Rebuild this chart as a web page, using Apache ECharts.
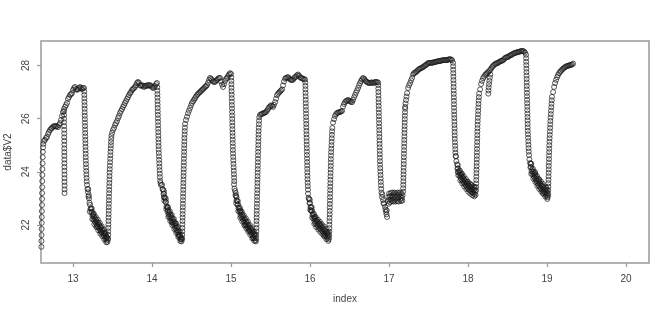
<!DOCTYPE html>
<html><head><meta charset="utf-8">
<script src="https://cdn.jsdelivr.net/npm/echarts@6/dist/echarts.min.js"></script>
<style>html,body{margin:0;padding:0;background:#fff}#c{width:670px;height:315px}</style>
</head><body><div id="c"></div>
<script>
var xTicks = [13, 14, 15, 16, 17, 18, 19, 20];
var yTicks = [22, 24, 26, 28];

var seg0 = [[12.600,21.18],[12.601,21.40],[12.602,21.62],[12.603,21.85],[12.604,22.08],[12.605,22.30],[12.606,22.52],[12.607,22.75],[12.608,22.98],[12.609,23.20],[12.610,23.42],[12.611,23.65],[12.612,23.88],[12.613,24.10],[12.615,24.32],[12.617,24.55],[12.619,24.75],[12.621,24.92],
[12.624,25.05],[12.633,25.16],[12.646,25.20],[12.658,25.27],[12.671,25.31],[12.684,25.42],[12.696,25.50],[12.709,25.57],[12.722,25.62],[12.734,25.65],[12.747,25.69],[12.759,25.72],[12.772,25.72],[12.785,25.70],[12.797,25.72],[12.810,25.68],[12.823,25.76],[12.835,25.83],[12.848,25.95],[12.861,26.10],[12.873,26.25],[12.886,26.36],[12.899,26.44],[12.911,26.51],[12.924,26.59],[12.937,26.74],[12.949,26.81],[12.962,26.89],[12.975,26.92],[12.987,26.96],[13.000,27.08],[13.013,27.15],[13.025,27.19],[13.038,27.11],[13.051,27.08],[13.063,27.11],[13.076,27.15],[13.089,27.19],[13.101,27.15],[13.114,27.11],[13.127,27.15],[13.139,27.15]];
var dip0 = [[12.887,26.28],[12.887,26.14],[12.888,26.00],[12.888,25.86],[12.888,25.72],[12.889,25.58],[12.889,25.44],[12.889,25.30],[12.890,25.16],[12.890,25.02],[12.890,24.88],[12.890,24.74],[12.891,24.60],[12.891,24.46],[12.891,24.32],[12.891,24.18],[12.892,24.04],[12.892,23.90],[12.892,23.76],[12.892,23.62],[12.893,23.48],[12.893,23.34],[12.893,23.20]];

var drop1 = [[13.142,27.02],[13.143,26.89],[13.144,26.76],[13.145,26.63],[13.146,26.50],[13.147,26.37],[13.148,26.24],[13.149,26.11],[13.150,25.98],[13.151,25.85],[13.152,25.72],[13.153,25.59],[13.154,25.46],[13.155,25.33],[13.156,25.20],[13.157,25.07],[13.158,24.94],[13.159,24.81],[13.160,24.68],[13.161,24.55],[13.162,24.42],[13.164,24.29],[13.166,24.16],[13.168,24.03],[13.170,23.90],[13.172,23.77],[13.174,23.64]];
var band1 = [[13.177,23.51],[13.183,23.35],[13.190,23.23],[13.196,23.07],[13.203,23.00],[13.209,22.84],[13.215,22.76],[13.221,22.60],[13.228,22.63],[13.234,22.47],[13.241,22.50],[13.247,22.34],[13.253,22.38],[13.259,22.22],[13.266,22.31],[13.272,22.15],[13.278,22.25],[13.284,22.09],[13.291,22.19],[13.297,22.03],[13.304,22.13],[13.310,21.97],[13.316,22.08],[13.322,21.92],[13.329,22.02],[13.335,21.86],[13.342,21.96],[13.348,21.80],[13.354,21.90],[13.360,21.74],[13.367,21.84],[13.373,21.68],[13.380,21.78],[13.386,21.62],[13.392,21.72],[13.398,21.56],[13.405,21.65],[13.411,21.49],[13.418,21.58],[13.424,21.42],[13.430,21.52],[13.436,21.36],[13.441,21.45],
[13.200,23.12],[13.260,22.40],[13.300,21.95],[13.350,21.75],[13.400,21.70],[13.425,21.55],
[13.193,23.35],[13.212,22.50],[13.238,22.62],[13.244,22.22],[13.263,22.43],[13.270,22.03],[13.288,22.30],[13.295,21.92],[13.313,22.20],[13.320,21.80],[13.339,22.08],[13.345,21.68],[13.364,21.95],[13.370,21.58],[13.389,21.84],[13.396,21.46],[13.415,21.70],[13.421,21.35]];
var rise1 = [[13.444,21.50],[13.445,21.63],[13.446,21.76],[13.447,21.89],[13.448,22.02],[13.449,22.15],[13.450,22.28],[13.451,22.41],[13.452,22.54],[13.453,22.67],[13.454,22.80],[13.455,22.93],[13.456,23.06],[13.457,23.19],[13.458,23.32],[13.459,23.45],[13.460,23.58],[13.461,23.71],[13.462,23.84],[13.463,23.97],[13.465,24.10],[13.467,24.23],[13.469,24.36],[13.471,24.49],[13.473,24.62],[13.475,24.75],[13.477,24.88],[13.479,25.00],[13.481,25.12],[13.484,25.24],[13.487,25.35]];
var top1 = [[13.494,25.46],[13.506,25.57],[13.519,25.65],[13.532,25.76],[13.544,25.83],[13.557,25.91],[13.570,26.02],[13.582,26.10],[13.595,26.21],[13.608,26.29],[13.620,26.36],[13.633,26.44],[13.646,26.51],[13.658,26.59],[13.671,26.66],[13.684,26.74],[13.696,26.81],[13.709,26.89],[13.722,26.96],[13.734,27.00],[13.747,27.08],[13.759,27.11],[13.772,27.15],[13.785,27.19],[13.797,27.26],[13.810,27.34],[13.823,27.38],[13.835,27.34],[13.848,27.26],[13.861,27.23],[13.873,27.26],[13.886,27.23],[13.899,27.19],[13.911,27.23],[13.924,27.23],[13.937,27.26],[13.949,27.23],[13.962,27.26],[13.975,27.26],[13.987,27.23],[14.000,27.19],[14.013,27.15],[14.025,27.19],[14.038,27.23],[14.051,27.30],[14.063,27.34]];

var drop2 = [[14.066,27.18],[14.067,27.05],[14.068,26.92],[14.069,26.79],[14.070,26.66],[14.071,26.53],[14.072,26.40],[14.073,26.27],[14.074,26.14],[14.075,26.01],[14.076,25.88],[14.077,25.75],[14.078,25.62],[14.079,25.49],[14.080,25.36],[14.081,25.23],[14.082,25.10],[14.083,24.97],[14.084,24.84],[14.086,24.71],[14.088,24.58],[14.090,24.45],[14.092,24.32],[14.094,24.19],[14.096,24.06],[14.098,23.93],[14.100,23.80],[14.103,23.67],[14.107,23.58],[14.114,23.50]];
var band2 = [[14.127,23.51],[14.133,23.35],[14.139,23.33],[14.145,23.17],[14.152,23.18],[14.158,23.02],[14.165,23.03],[14.171,22.87],[14.177,22.86],[14.183,22.70],[14.190,22.66],[14.196,22.50],[14.203,22.56],[14.209,22.40],[14.215,22.48],[14.221,22.32],[14.228,22.41],[14.234,22.25],[14.241,22.34],[14.247,22.18],[14.253,22.27],[14.259,22.11],[14.266,22.20],[14.272,22.04],[14.279,22.12],[14.285,21.96],[14.291,22.04],[14.297,21.88],[14.304,21.96],[14.310,21.80],[14.316,21.89],[14.322,21.73],[14.329,21.80],[14.335,21.64],[14.342,21.72],[14.348,21.56],[14.354,21.63],[14.360,21.47],[14.367,21.54],[14.373,21.38],[14.378,21.45],
[14.150,23.05],[14.200,22.65],[14.250,22.10],[14.300,22.05],[14.340,21.60],[14.370,21.48],
[14.150,23.28],[14.156,22.92],[14.175,22.98],[14.181,22.60],[14.200,22.68],[14.206,22.30],[14.225,22.52],[14.231,22.15],[14.250,22.38],[14.256,22.00],[14.276,22.23],[14.282,21.85],[14.301,22.07],[14.307,21.70],[14.326,21.92],[14.332,21.55],[14.351,21.75],[14.357,21.40]];
var rise2 = [[14.381,21.50],[14.382,21.63],[14.383,21.76],[14.384,21.89],[14.385,22.02],[14.386,22.15],[14.387,22.28],[14.388,22.41],[14.389,22.54],[14.390,22.67],[14.391,22.80],[14.392,22.93],[14.393,23.06],[14.394,23.19],[14.395,23.32],[14.396,23.45],[14.397,23.58],[14.398,23.71],[14.399,23.84],[14.400,23.97],[14.401,24.10],[14.402,24.23],[14.403,24.36],[14.404,24.49],[14.405,24.62],[14.406,24.75],[14.407,24.88],[14.408,25.01],[14.409,25.14],[14.410,25.27],[14.412,25.40],[14.414,25.53],[14.416,25.66]];
var top2 = [[14.418,25.80],[14.430,25.95],[14.443,26.07],[14.456,26.20],[14.468,26.30],[14.481,26.40],[14.494,26.50],[14.506,26.59],[14.519,26.65],[14.532,26.71],[14.544,26.77],[14.557,26.83],[14.570,26.89],[14.582,26.93],[14.595,26.97],[14.608,27.00],[14.620,27.04],[14.633,27.08],[14.646,27.11],[14.658,27.15],[14.671,27.19],[14.684,27.22],[14.696,27.26],[14.709,27.35],[14.722,27.45],[14.734,27.53],[14.747,27.50],[14.759,27.45],[14.772,27.40],[14.785,27.38],[14.797,27.38],[14.810,27.42],[14.823,27.46],[14.835,27.50],[14.848,27.53],[14.861,27.53],[14.873,27.40],[14.886,27.28],[14.899,27.19],[14.911,27.30],[14.924,27.42],[14.937,27.50],[14.949,27.53],[14.962,27.60],[14.975,27.66],[14.987,27.71],[15.000,27.68]];

var drop3 = [[15.003,27.55],[15.004,27.42],[15.005,27.29],[15.006,27.16],[15.007,27.03],[15.008,26.90],[15.009,26.77],[15.010,26.64],[15.011,26.51],[15.012,26.38],[15.013,26.25],[15.014,26.12],[15.015,25.99],[15.016,25.86],[15.017,25.73],[15.018,25.60],[15.019,25.47],[15.020,25.34],[15.021,25.21],[15.022,25.08],[15.023,24.95],[15.024,24.82],[15.025,24.69],[15.027,24.56],[15.029,24.43],[15.031,24.30],[15.033,24.17],[15.035,24.04],[15.037,23.91],[15.039,23.78],[15.041,23.65]];
var band3 = [[15.038,23.53],[15.044,23.37],[15.051,23.28],[15.057,23.12],[15.063,23.08],[15.069,22.92],[15.076,22.91],[15.082,22.75],[15.089,22.78],[15.095,22.62],[15.101,22.65],[15.107,22.49],[15.114,22.53],[15.120,22.37],[15.127,22.46],[15.133,22.30],[15.139,22.39],[15.145,22.23],[15.152,22.32],[15.158,22.16],[15.165,22.25],[15.171,22.09],[15.177,22.19],[15.183,22.03],[15.190,22.13],[15.196,21.97],[15.203,22.07],[15.209,21.91],[15.215,22.01],[15.221,21.85],[15.228,21.95],[15.234,21.79],[15.241,21.89],[15.247,21.73],[15.253,21.83],[15.259,21.67],[15.266,21.77],[15.272,21.61],[15.279,21.71],[15.285,21.55],[15.291,21.65],[15.297,21.49],[15.304,21.59],[15.310,21.43],[15.315,21.38],
[15.070,23.05],[15.120,22.55],[15.180,21.98],[15.230,21.80],[15.280,21.50],[15.300,21.66],
[15.060,23.20],[15.066,22.82],[15.086,22.90],[15.092,22.52],[15.111,22.65],[15.117,22.27],[15.136,22.50],[15.142,22.13],[15.162,22.37],[15.168,21.99],[15.187,22.25],[15.193,21.87],[15.212,22.13],[15.218,21.75],[15.238,22.00],[15.244,21.63],[15.263,21.88],[15.269,21.50],[15.288,21.76],[15.294,21.40]];
var rise3 = [[15.318,21.50],[15.319,21.63],[15.320,21.76],[15.321,21.89],[15.322,22.02],[15.323,22.15],[15.324,22.28],[15.325,22.41],[15.326,22.54],[15.327,22.67],[15.328,22.80],[15.329,22.93],[15.330,23.06],[15.331,23.19],[15.332,23.32],[15.333,23.45],[15.334,23.58],[15.335,23.71],[15.336,23.84],[15.337,23.97],[15.338,24.10],[15.339,24.23],[15.340,24.36],[15.341,24.49],[15.342,24.62],[15.343,24.75],[15.344,24.88],[15.345,25.01],[15.346,25.14],[15.347,25.27],[15.348,25.40],[15.349,25.53],[15.351,25.66],[15.353,25.79],[15.355,25.92],[15.357,26.05]];
var top3 = [[15.367,26.14],[15.380,26.16],[15.392,26.18],[15.405,26.20],[15.418,26.21],[15.430,26.23],[15.443,26.25],[15.456,26.30],[15.468,26.36],[15.481,26.42],[15.494,26.46],[15.506,26.50],[15.519,26.48],[15.532,26.44],[15.544,26.52],[15.557,26.62],[15.570,26.75],[15.582,26.88],[15.595,26.94],[15.608,26.98],[15.620,27.02],[15.633,27.06],[15.646,27.10],[15.658,27.25],[15.671,27.40],[15.684,27.50],[15.696,27.53],[15.709,27.55],[15.722,27.56],[15.734,27.52],[15.747,27.48],[15.759,27.46],[15.772,27.45],[15.785,27.47],[15.797,27.52],[15.810,27.56],[15.823,27.58],[15.835,27.63],[15.848,27.66],[15.861,27.62],[15.873,27.56],[15.886,27.53],[15.899,27.52],[15.911,27.50],[15.924,27.48],[15.937,27.47]];

var drop4 = [[15.940,27.36],[15.941,27.23],[15.942,27.10],[15.943,26.97],[15.944,26.84],[15.945,26.71],[15.946,26.58],[15.947,26.45],[15.948,26.32],[15.949,26.19],[15.950,26.06],[15.951,25.93],[15.952,25.80],[15.953,25.67],[15.954,25.54],[15.955,25.41],[15.956,25.28],[15.957,25.15],[15.958,25.02],[15.959,24.89],[15.960,24.76],[15.961,24.63],[15.962,24.50],[15.963,24.37],[15.964,24.24],[15.965,24.11],[15.966,23.98],[15.967,23.85],[15.968,23.72],[15.970,23.59],[15.972,23.46],[15.974,23.33]];
var band4 = [[15.975,23.18],[15.981,23.02],[15.987,22.98],[15.993,22.82],[16.000,22.83],[16.006,22.67],[16.013,22.68],[16.019,22.52],[16.025,22.53],[16.031,22.37],[16.038,22.40],[16.044,22.24],[16.051,22.30],[16.057,22.14],[16.063,22.23],[16.069,22.07],[16.076,22.18],[16.082,22.02],[16.089,22.14],[16.095,21.98],[16.101,22.09],[16.107,21.93],[16.114,22.04],[16.120,21.88],[16.127,22.00],[16.133,21.84],[16.139,21.96],[16.145,21.80],[16.152,21.92],[16.158,21.76],[16.165,21.88],[16.171,21.72],[16.177,21.83],[16.183,21.67],[16.190,21.78],[16.196,21.62],[16.203,21.73],[16.209,21.57],[16.215,21.68],[16.221,21.52],[16.228,21.62],[16.234,21.46],[16.240,21.52],
[16.010,22.55],[16.060,22.30],[16.120,22.05],[16.180,21.60],[16.220,21.70],
[15.997,22.95],[16.003,22.57],[16.022,22.65],[16.028,22.27],[16.048,22.42],[16.054,22.04],[16.073,22.30],[16.079,21.92],[16.098,22.20],[16.104,21.83],[16.124,22.12],[16.130,21.74],[16.149,22.03],[16.155,21.66],[16.174,21.95],[16.180,21.57],[16.200,21.85],[16.206,21.47],[16.225,21.74],[16.231,21.40]];
var rise4 = [[16.242,21.62],[16.243,21.75],[16.244,21.88],[16.245,22.01],[16.246,22.14],[16.247,22.27],[16.248,22.40],[16.249,22.53],[16.250,22.66],[16.251,22.79],[16.252,22.92],[16.253,23.05],[16.254,23.18],[16.255,23.31],[16.256,23.44],[16.257,23.57],[16.258,23.70],[16.259,23.83],[16.260,23.96],[16.261,24.09],[16.262,24.22],[16.263,24.35],[16.264,24.48],[16.265,24.61],[16.267,24.74],[16.269,24.87],[16.271,25.00],[16.273,25.13],[16.275,25.26],[16.277,25.39],[16.279,25.52],[16.282,25.65]];
var top4 = [[16.291,25.85],[16.304,25.98],[16.316,26.10],[16.329,26.17],[16.342,26.21],[16.354,26.23],[16.367,26.24],[16.380,26.25],[16.392,26.27],[16.405,26.29],[16.418,26.45],[16.430,26.55],[16.443,26.62],[16.456,26.66],[16.468,26.68],[16.481,26.70],[16.494,26.68],[16.506,26.65],[16.519,26.63],[16.532,26.62],[16.544,26.70],[16.557,26.80],[16.570,26.89],[16.582,26.98],[16.595,27.06],[16.608,27.15],[16.620,27.25],[16.633,27.34],[16.646,27.42],[16.658,27.48],[16.671,27.53],[16.684,27.50],[16.696,27.45],[16.709,27.40],[16.722,27.38],[16.734,27.35],[16.747,27.34],[16.759,27.34],[16.772,27.36],[16.785,27.36],[16.797,27.34],[16.810,27.35],[16.823,27.38],[16.835,27.38],[16.848,27.37],[16.861,27.36]];

var drop5 = [[16.863,27.26],[16.864,27.13],[16.865,27.00],[16.866,26.87],[16.867,26.74],[16.868,26.61],[16.869,26.48],[16.870,26.35],[16.871,26.22],[16.872,26.09],[16.873,25.96],[16.874,25.83],[16.875,25.70],[16.876,25.57],[16.877,25.44],[16.878,25.31],[16.879,25.18],[16.880,25.05],[16.881,24.92],[16.882,24.79],[16.883,24.66],[16.884,24.53],[16.885,24.40],[16.886,24.27],[16.888,24.14],[16.890,24.01],[16.892,23.88],[16.894,23.75],[16.896,23.62],[16.898,23.49],[16.900,23.36],
[16.905,23.22],[16.911,23.05],[16.915,23.15],[16.924,22.94],[16.930,22.82],[16.937,22.80],[16.949,22.68],[16.955,22.58],[16.962,22.49],[16.968,22.40],[16.975,22.30],[16.970,22.55]];
var flat5 = [[16.987,22.90],[16.990,23.05],[16.995,22.80],[17.000,23.18],[17.003,22.95],[17.010,23.08],[17.013,22.85],[17.020,23.20],[17.025,22.95],[17.030,23.10],[17.038,22.90],[17.040,23.22],[17.048,23.02],[17.055,22.88],[17.058,23.15],[17.065,23.22],[17.070,22.95],[17.075,23.08],[17.082,22.88],[17.088,23.20],[17.092,23.00],[17.100,23.12],[17.105,22.90],[17.110,23.22],[17.118,23.02],[17.122,22.88],[17.128,23.15],[17.135,23.22],[17.140,22.95],[17.145,23.08],[17.152,22.90],[17.158,23.18],[17.162,23.02],[17.168,22.92],[17.172,23.12]];
var rise5 = [[17.178,23.25],[17.179,23.38],[17.180,23.51],[17.181,23.64],[17.182,23.77],[17.183,23.90],[17.184,24.03],[17.185,24.16],[17.186,24.29],[17.187,24.42],[17.188,24.55],[17.189,24.68],[17.190,24.81],[17.191,24.94],[17.192,25.07],[17.193,25.20],[17.194,25.33],[17.195,25.46],[17.196,25.59],[17.197,25.72],[17.198,25.85],[17.199,25.98],[17.200,26.11],[17.202,26.24],[17.204,26.37]];
var top5 = [[17.203,26.44],[17.209,26.57],[17.215,26.70],[17.221,26.83],[17.228,26.96],[17.241,27.15],[17.253,27.25],[17.266,27.34],[17.279,27.44],[17.291,27.53],[17.304,27.66],[17.316,27.71],[17.329,27.73],[17.342,27.75],[17.354,27.79],[17.367,27.83],[17.380,27.86],[17.392,27.88],[17.405,27.90],[17.418,27.92],[17.430,27.94],[17.443,27.97],[17.456,28.00],[17.468,28.02],[17.481,28.05],[17.494,28.09],[17.506,28.09],[17.519,28.10],[17.532,28.10],[17.544,28.10],[17.557,28.11],[17.570,28.12],[17.582,28.13],[17.595,28.14],[17.608,28.15],[17.620,28.16],[17.633,28.16],[17.646,28.17],[17.658,28.18],[17.671,28.19],[17.684,28.20],[17.696,28.20],[17.709,28.20],[17.722,28.20],[17.734,28.20],[17.747,28.22],[17.759,28.23],[17.772,28.24],[17.785,28.22],[17.797,28.20]];

var drop6 = [[17.810,28.10],[17.811,27.97],[17.812,27.84],[17.813,27.71],[17.814,27.58],[17.815,27.45],[17.816,27.32],[17.817,27.19],[17.818,27.06],[17.819,26.93],[17.820,26.80],[17.821,26.67],[17.822,26.54],[17.823,26.41],[17.824,26.28],[17.825,26.15],[17.826,26.02],[17.827,25.89],[17.828,25.76],[17.829,25.63],[17.830,25.50],[17.831,25.37],[17.832,25.24],[17.834,25.11],[17.836,24.98],[17.838,24.85],[17.840,24.72],[17.843,24.59]];
var band6 = [[17.848,24.58],[17.852,24.40],[17.861,24.28],[17.865,24.12],[17.873,24.13],[17.877,23.97],[17.886,24.03],[17.892,23.87],[17.899,23.94],[17.905,23.78],[17.911,23.88],[17.917,23.72],[17.924,23.82],[17.930,23.66],[17.937,23.76],[17.943,23.60],[17.949,23.71],[17.955,23.55],[17.962,23.66],[17.968,23.50],[17.975,23.61],[17.981,23.45],[17.987,23.56],[17.993,23.40],[18.000,23.51],[18.006,23.35],[18.013,23.48],[18.019,23.32],[18.025,23.44],[18.031,23.28],[18.038,23.41],[18.044,23.25],[18.051,23.38],[18.057,23.22],[18.063,23.35],[18.069,23.19],[18.076,23.32],[18.082,23.16],[18.089,23.29],[18.095,23.13],
[17.870,24.00],[17.920,23.90],[17.990,23.62],[18.040,23.50],[18.085,23.40],
[17.870,24.25],[17.876,23.87],[17.896,24.05],[17.902,23.68],[17.921,23.94],[17.927,23.56],[17.946,23.83],[17.952,23.45],[17.972,23.73],[17.978,23.35],[17.997,23.63],[18.003,23.25],[18.022,23.56],[18.028,23.18],[18.048,23.50],[18.054,23.12],[18.073,23.44],[18.079,23.08]];
var rise6 = [[18.101,23.30],[18.102,23.43],[18.103,23.56],[18.104,23.69],[18.105,23.82],[18.106,23.95],[18.107,24.08],[18.108,24.21],[18.109,24.34],[18.110,24.47],[18.111,24.60],[18.112,24.73],[18.113,24.86],[18.114,24.99],[18.115,25.12],[18.116,25.25],[18.117,25.38],[18.118,25.51],[18.119,25.64],[18.120,25.77],[18.122,25.90],[18.124,26.03],[18.126,26.16],[18.128,26.29],[18.130,26.42],[18.132,26.55],[18.134,26.68],[18.137,26.81],[18.140,26.94]];
var top6 = [[18.152,27.10],[18.165,27.30],[18.177,27.42],[18.190,27.52],[18.203,27.58],[18.215,27.64],[18.228,27.68],[18.241,27.71],[18.253,27.75],[18.266,27.78],[18.279,27.83],[18.291,27.88],[18.304,27.94],[18.316,27.98],[18.329,28.02],[18.342,28.05],[18.354,28.07],[18.367,28.09],[18.380,28.10],[18.392,28.13],[18.405,28.15],[18.418,28.17],[18.430,28.18],[18.443,28.20],[18.456,28.24],[18.468,28.28],[18.481,28.30],[18.494,28.32],[18.506,28.32],[18.519,28.35],[18.532,28.38],[18.544,28.39],[18.557,28.41],[18.570,28.44],[18.582,28.46],[18.595,28.47],[18.608,28.48],[18.620,28.50],[18.633,28.50],[18.646,28.51],[18.658,28.53],[18.671,28.54],[18.684,28.55],[18.696,28.54],[18.709,28.52],[18.722,28.48]];
var dip6 = [[18.256,26.94],[18.258,27.06],[18.261,27.18],[18.265,27.30],[18.270,27.42],[18.276,27.54],[18.282,27.66]];

var drop7 = [[18.734,28.40],[18.735,28.27],[18.736,28.14],[18.737,28.01],[18.738,27.88],[18.739,27.75],[18.740,27.62],[18.741,27.49],[18.742,27.36],[18.743,27.23],[18.744,27.10],[18.745,26.97],[18.746,26.84],[18.747,26.71],[18.748,26.58],[18.749,26.45],[18.750,26.32],[18.751,26.19],[18.752,26.06],[18.753,25.93],[18.754,25.80],[18.755,25.67],[18.756,25.54],[18.758,25.41],[18.760,25.28],[18.762,25.15],[18.764,25.02],[18.766,24.89],[18.768,24.76]];
var band7 = [[18.772,24.63],[18.776,24.47],[18.785,24.33],[18.789,24.17],[18.797,24.18],[18.803,24.02],[18.810,24.08],[18.816,23.92],[18.823,24.00],[18.829,23.84],[18.835,23.94],[18.841,23.78],[18.848,23.88],[18.854,23.72],[18.861,23.81],[18.867,23.65],[18.873,23.73],[18.879,23.57],[18.886,23.66],[18.892,23.50],[18.899,23.61],[18.905,23.45],[18.911,23.56],[18.917,23.40],[18.924,23.52],[18.930,23.36],[18.937,23.47],[18.943,23.31],[18.949,23.43],[18.955,23.27],[18.962,23.38],[18.968,23.22],[18.975,23.33],[18.981,23.17],[18.987,23.27],[18.993,23.11],[19.000,23.20],[19.006,23.04],[19.012,23.10],
[18.800,24.30],[18.850,23.95],[18.900,23.70],[18.950,23.20],[18.990,23.40],
[18.794,24.30],[18.800,23.92],[18.820,24.12],[18.826,23.74],[18.845,24.00],[18.851,23.62],[18.870,23.85],[18.876,23.47],[18.896,23.73],[18.902,23.35],[18.921,23.64],[18.927,23.26],[18.946,23.55],[18.952,23.17],[18.972,23.45],[18.978,23.07],[18.997,23.32],[19.003,22.98]];
var rise7 = [[19.014,23.18],[19.015,23.31],[19.016,23.44],[19.017,23.57],[19.018,23.70],[19.019,23.83],[19.020,23.96],[19.021,24.09],[19.022,24.22],[19.023,24.35],[19.024,24.48],[19.025,24.61],[19.026,24.74],[19.027,24.87],[19.028,25.00],[19.030,25.13],[19.032,25.26],[19.034,25.39],[19.036,25.52],[19.038,25.65],[19.040,25.78],[19.042,25.91],[19.044,26.04],[19.047,26.17],[19.050,26.30],[19.053,26.43],[19.056,26.56],[19.059,26.69],[19.062,26.82]];
var top7 = [[19.076,27.00],[19.089,27.19],[19.101,27.34],[19.114,27.46],[19.127,27.56],[19.139,27.64],[19.152,27.71],[19.165,27.76],[19.177,27.80],[19.190,27.84],[19.203,27.88],[19.215,27.91],[19.228,27.94],[19.241,27.96],[19.253,27.98],[19.266,27.99],[19.279,28.00],[19.291,28.01],[19.304,28.02],[19.316,28.04],[19.329,28.07]];

var allPoints = [].concat(seg0, dip0, drop1, band1, rise1, top1, drop2, band2, rise2, top2,
  drop3, band3, rise3, top3, drop4, band4, rise4, top4, drop5, flat5, rise5, top5,
  drop6, band6, rise6, top6, dip6, drop7, band7, rise7, top7);

var chart = echarts.init(document.getElementById('c'), null, {renderer: 'canvas'});
var txt = {color: '#444', fontSize: 10, fontFamily: 'Liberation Sans, Arial, sans-serif'};
chart.setOption({
  animation: false,
  backgroundColor: '#fff',
  grid: {left: 41, right: 21, top: 41, bottom: 52, show: true, borderColor: '#999', borderWidth: 1.5,
         backgroundColor: 'transparent', containLabel: false, outerBoundsMode: 'none'},
  xAxis: {
    type: 'value', min: 12.595, max: 20.29,
    name: 'index', nameLocation: 'middle', nameGap: 31,
    nameTextStyle: txt,
    axisLine: {show: false},
    axisTick: {show: true, length: 4, lineStyle: {color: '#999', width: 1.2}, customValues: xTicks},
    axisLabel: Object.assign({customValues: xTicks, margin: 11}, txt),
    splitLine: {show: false}
  },
  yAxis: {
    type: 'value', min: 20.57, max: 28.92,
    name: 'data$V2', nameLocation: 'middle', nameGap: 25, nameRotate: 90,
    nameTextStyle: txt,
    axisLine: {show: false},
    axisTick: {show: true, length: 4, lineStyle: {color: '#999', width: 1.2}, customValues: yTicks},
    axisLabel: Object.assign({customValues: yTicks, rotate: 90, margin: 10}, txt),
    splitLine: {show: false}
  },
  series: [{
    type: 'scatter',
    data: allPoints,
    symbol: 'circle',
    symbolSize: 5,
    itemStyle: {color: 'rgba(0,0,0,0)', borderColor: '#1a1a1a', borderWidth: 0.9},
    silent: true
  }]
});
</script>
</body></html>
